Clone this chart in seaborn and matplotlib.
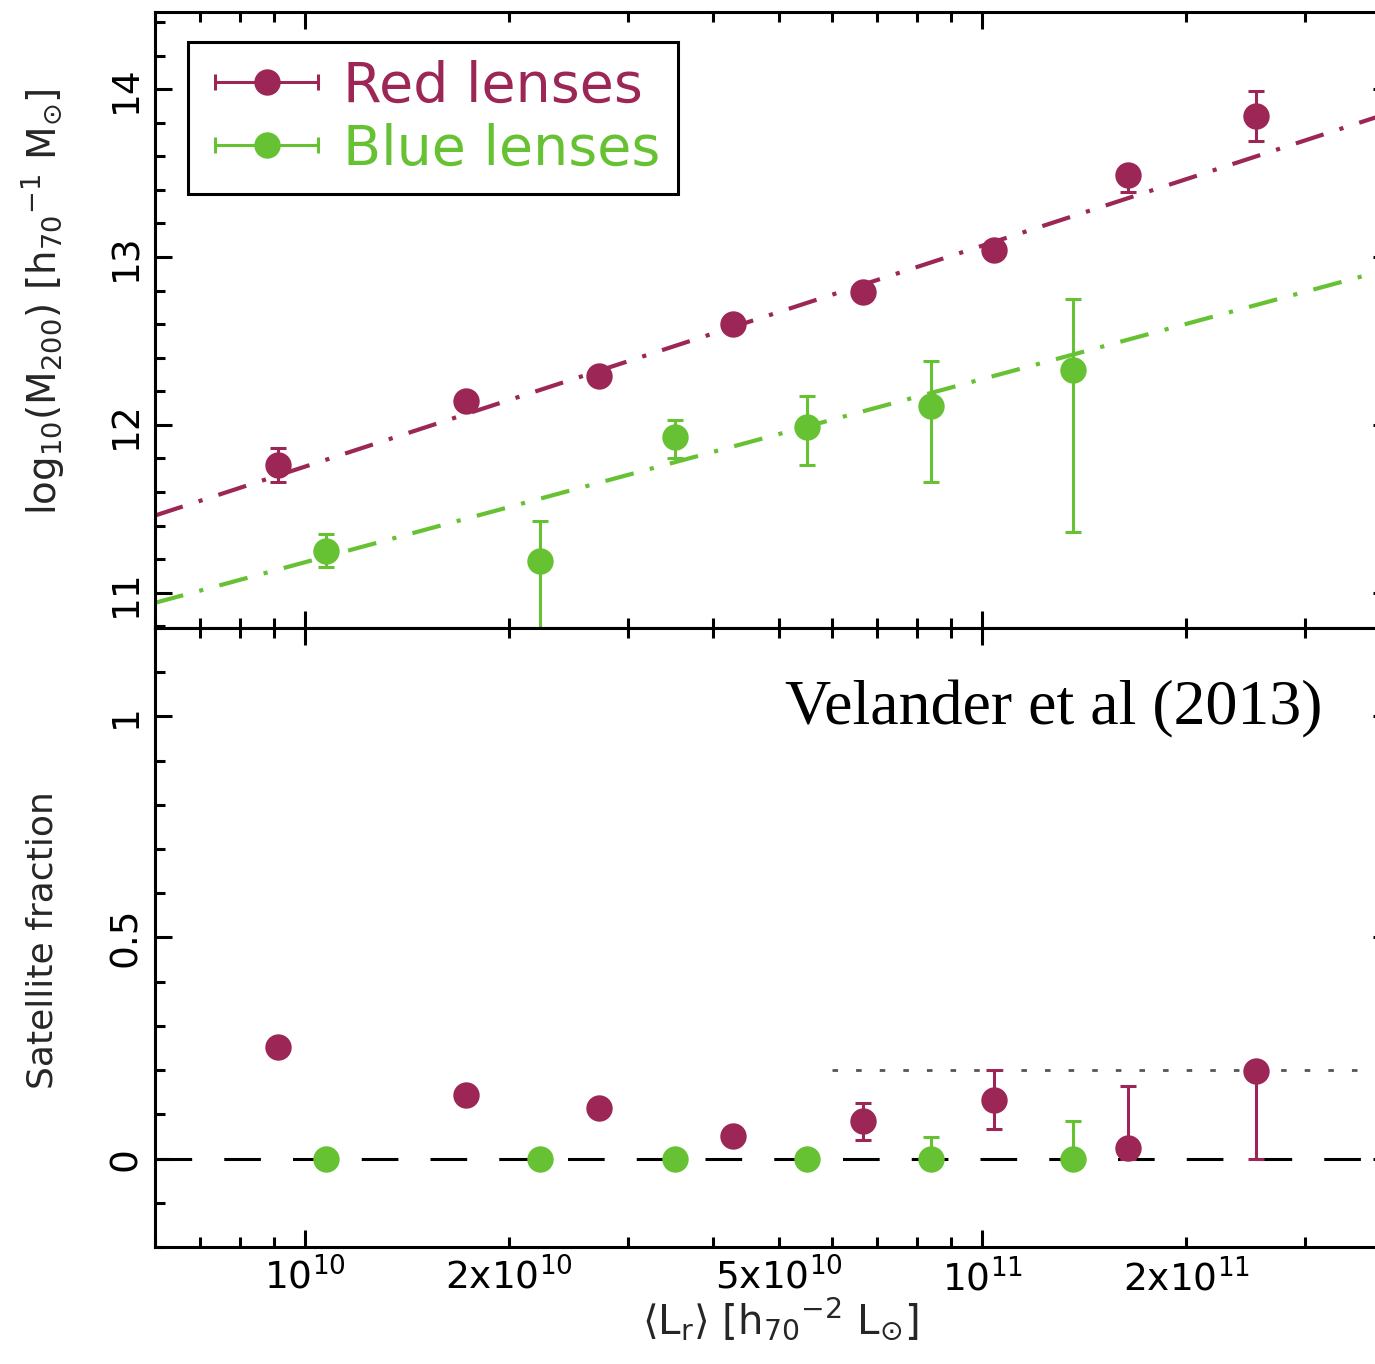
import numpy as np
import pandas as pd
import matplotlib
matplotlib.use("Agg")
import matplotlib.pyplot as plt
import seaborn as sns
from matplotlib.ticker import FixedLocator, FixedFormatter, NullFormatter
from matplotlib.legend_handler import HandlerBase
from matplotlib.lines import Line2D

# ---------------- data ----------------
red_L = [9.12e9, 1.73e10, 2.72e10, 4.28e10, 6.67e10, 1.04e11, 1.64e11, 2.54e11]
red_logM = [11.76, 12.14, 12.29, 12.60, 12.79, 13.04, 13.49, 13.84]
red_logM_lo = [0.10, 0.04, 0.04, 0.04, 0.04, 0.04, 0.10, 0.15]
red_logM_hi = [0.10, 0.04, 0.04, 0.04, 0.04, 0.04, 0.05, 0.15]

blue_L = [1.074e10, 2.22e10, 3.52e10, 5.50e10, 8.41e10, 1.36e11]
blue_logM = [11.25, 11.19, 11.93, 11.99, 12.11, 12.33]
blue_logM_lo = [0.095, 0.60, 0.13, 0.23, 0.45, 0.97]
blue_logM_hi = [0.10, 0.24, 0.10, 0.185, 0.27, 0.42]

red_fsat = [0.253, 0.143, 0.115, 0.050, 0.084, 0.133, 0.025, 0.199]
red_fsat_lo = [0.0, 0.0, 0.0, 0.0, 0.041, 0.066, 0.025, 0.199]
red_fsat_hi = [0.0, 0.0, 0.0, 0.0, 0.041, 0.068, 0.14, 0.0]

blue_fsat = [0.0, 0.0, 0.0, 0.0, 0.0, 0.0]
blue_fsat_lo = [0.0, 0.0, 0.0, 0.0, 0.0, 0.0]
blue_fsat_hi = [0.0, 0.0, 0.0, 0.0, 0.048, 0.086]

fit_L = [6e9, 4e11]
red_fit = [11.46, 13.86]
blue_fit = [10.94, 12.93]

zero_L = [6e9, 4e11]
zero_y = [0.0, 0.0]
dot_L = [6e10, 4e11]
dot_y = [0.2, 0.2]

series_names = ["Red lenses", "Blue lenses"]

major_ticks = [1e10, 1e11]
major_labels = [r"$10^{10}$", r"$10^{11}$"]
minor_ticks = [6e9, 7e9, 8e9, 9e9, 2e10, 3e10, 4e10, 5e10, 6e10, 7e10, 8e10, 9e10,
               2e11, 3e11, 4e11]
minor_labels = ["", "", "", "", r"$2\mathrm{x}10^{10}$", "", "", r"$5\mathrm{x}10^{10}$",
                "", "", "", "", r"$2\mathrm{x}10^{11}$", "", ""]

RED = "#9c2756"
GREEN = "#66c233"

# ---------------- style ----------------
sns.set_style("ticks")
plt.rcParams["font.family"] = ["DejaVu Sans"]
plt.rcParams["mathtext.fontset"] = "dejavusans"
plt.rcParams["axes.linewidth"] = 2.2
plt.rcParams["axes.edgecolor"] = "black"

TICKFS = 27

fig = plt.figure(figsize=(13.75, 13.64), dpi=100)
ax1 = fig.add_axes([0.11273, 0.53959, 0.89818, 0.45161])
ax2 = fig.add_axes([0.11273, 0.08578, 0.89818, 0.45381])

MS = 19
S = MS ** 2
CAP = 6
ELW = 2.2


class HorizontalErrHandler(HandlerBase):
    """Legend key: horizontal bar with end caps and a filled circle in the middle."""

    def create_artists(self, legend, orig_handle, xdescent, ydescent, width, height,
                       fontsize, trans):
        c = orig_handle.get_color()
        y = height / 2.0 - ydescent
        x0 = -xdescent + 0.09 * width
        x1 = -xdescent + width
        bar = Line2D([x0, x1], [y, y], color=c, lw=ELW)
        caps = Line2D([x0, x1], [y, y], ls="none", marker="|", ms=2 * CAP, mew=ELW, color=c)
        dot = Line2D([(x0 + x1) / 2.0], [y], ls="none", marker="o", ms=MS, mew=0, color=c)
        for a in (bar, caps, dot):
            a.set_transform(trans)
        return [bar, caps, dot]


def style_axis(ax, with_labels):
    ax.set_xscale("log")
    ax.set_xlim(6e9, 4e11)
    ax.xaxis.set_major_locator(FixedLocator(major_ticks))
    ax.xaxis.set_minor_locator(FixedLocator(minor_ticks))
    if with_labels:
        ax.xaxis.set_major_formatter(FixedFormatter(major_labels))
        ax.xaxis.set_minor_formatter(FixedFormatter(minor_labels))
    else:
        ax.xaxis.set_major_formatter(NullFormatter())
        ax.xaxis.set_minor_formatter(NullFormatter())
    ax.tick_params(which="both", direction="in", top=True, right=True,
                   width=2.2, color="black", labelcolor="black")
    ax.tick_params(which="major", length=12)
    ax.tick_params(which="minor", length=7.5)
    ax.tick_params(axis="x", which="both", labelsize=TICKFS, pad=8)
    ax.tick_params(axis="y", which="both", labelsize=TICKFS, pad=8, labelrotation=90)
    for sp in ax.spines.values():
        sp.set_linewidth(2.2)
        sp.set_color("black")
    for lab in ax.get_yticklabels():
        lab.set_verticalalignment("center")


# ---------------- top panel ----------------
ax = ax1
style_axis(ax, False)
ax.set_ylim(10.79, 14.46)
ax.yaxis.set_major_locator(FixedLocator([11, 12, 13, 14]))
ax.yaxis.set_minor_locator(FixedLocator(np.round(np.arange(10.8, 14.5, 0.2), 1)))
ax.set_yticklabels(["11", "12", "13", "14"])

sns.lineplot(x=fit_L, y=red_fit, ax=ax, color=RED, lw=3, linestyle=(0, (7, 4, 1, 4)),
             zorder=1, legend=False)
sns.lineplot(x=fit_L, y=blue_fit, ax=ax, color=GREEN, lw=3, linestyle=(0, (7, 4, 1, 4)),
             zorder=1, legend=False)

ax.errorbar(red_L, red_logM, yerr=[red_logM_lo, red_logM_hi], fmt="none", ecolor=RED,
            elinewidth=ELW, capsize=CAP, capthick=ELW, zorder=2)
ax.errorbar(blue_L, blue_logM, yerr=[blue_logM_lo, blue_logM_hi], fmt="none", ecolor=GREEN,
            elinewidth=ELW, capsize=CAP, capthick=ELW, zorder=2)
sns.scatterplot(x=red_L, y=red_logM, ax=ax, color=RED, s=S, linewidth=0, zorder=3)
sns.scatterplot(x=blue_L, y=blue_logM, ax=ax, color=GREEN, s=S, linewidth=0, zorder=3)

proxies = [Line2D([], [], color=RED), Line2D([], [], color=GREEN)]
handler = HorizontalErrHandler()
leg = ax.legend(handles=proxies, labels=series_names,
                loc="upper left", bbox_to_anchor=(0.0267, 0.951), borderaxespad=0,
                fontsize=40, handlelength=2.03, handletextpad=0.45, borderpad=0.31,
                labelspacing=0.17, fancybox=False, frameon=True,
                handler_map={proxies[0]: handler, proxies[1]: handler})
leg.get_frame().set_edgecolor("black")
leg.get_frame().set_linewidth(2.2)
leg.get_frame().set_alpha(1)
leg.get_texts()[0].set_color(RED)
leg.get_texts()[1].set_color(GREEN)

ax.set_ylabel(r"$\mathrm{log_{10}(M_{200})\ [h_{70}{}^{-1}\ M_{\odot}]}$", fontsize=28)
ax.yaxis.set_label_coords(-0.072, 0.53)
ax.set_xlabel("")

# ---------------- bottom panel ----------------
ax = ax2
style_axis(ax, True)
ax.set_ylim(-0.2, 1.2)
ax.yaxis.set_major_locator(FixedLocator([0, 0.5, 1]))
ax.yaxis.set_minor_locator(FixedLocator(np.round(np.arange(-0.2, 1.25, 0.1), 1)))
ax.set_yticklabels(["0", "0.5", "1"])

sns.lineplot(x=zero_L, y=zero_y, ax=ax, color="black", lw=2.2, linestyle=(0, (12, 10.5)),
             zorder=1, legend=False)
sns.lineplot(x=dot_L, y=dot_y, ax=ax, color="#555555", lw=2.0, linestyle=(0, (2, 6.5)),
             zorder=1, legend=False)

ax.errorbar(red_L, red_fsat, yerr=[red_fsat_lo, red_fsat_hi], fmt="none", ecolor=RED,
            elinewidth=ELW, capsize=CAP, capthick=ELW, zorder=2)
ax.errorbar(blue_L, blue_fsat, yerr=[blue_fsat_lo, blue_fsat_hi], fmt="none", ecolor=GREEN,
            elinewidth=ELW, capsize=CAP, capthick=ELW, zorder=2)
sns.scatterplot(x=red_L, y=red_fsat, ax=ax, color=RED, s=S, linewidth=0, zorder=3)
sns.scatterplot(x=blue_L, y=blue_fsat, ax=ax, color=GREEN, s=S, linewidth=0, zorder=3)

ax.set_ylabel("Satellite fraction", fontsize=26)
ax.yaxis.set_label_coords(-0.077, 0.496)
ax.set_xlabel(r"$\langle\mathrm{L_r}\rangle\ [\mathrm{h_{70}{}^{-2}\ L_{\odot}}]$",
              fontsize=29)
ax.xaxis.set_label_coords(0.506, -0.08)

ax.text(0.945, 0.868, "Velander et al (2013)", transform=ax.transAxes, ha="right",
        va="center", fontsize=46, family=["Liberation Serif", "DejaVu Serif"], color="black")

fig.savefig("out.png", dpi=100)
